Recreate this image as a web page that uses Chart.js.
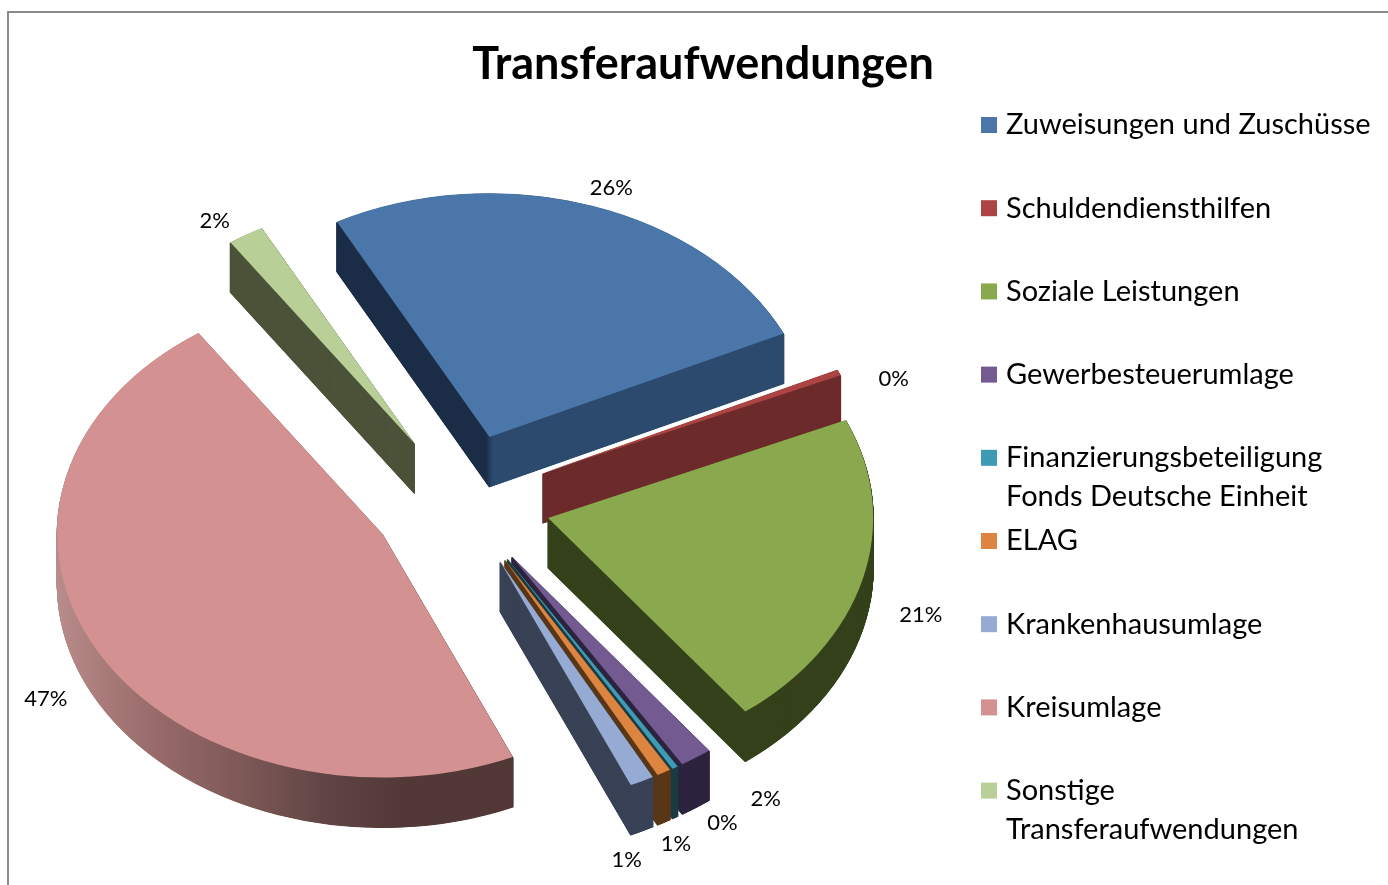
<!DOCTYPE html>
<html><head><meta charset="utf-8">
<script src="https://cdn.jsdelivr.net/npm/chart.js@4.4.1/dist/chart.umd.min.js"></script>
<style>
html,body{margin:0;padding:0;background:#fff;overflow:hidden}
#wrap{position:relative;width:1388px;height:885px}
#frame{position:absolute;left:7px;top:11px;right:-10px;bottom:-10px;border-top:2px solid #8a8a8a;border-left:2px solid #8a8a8a;pointer-events:none}
canvas{position:absolute;left:0;top:0}
</style></head><body>
<div id="wrap"><canvas id="c" width="1388" height="885"></canvas><div id="frame"></div></div>
<script>
// ---- data ----
const chartTitle = 'Transferaufwendungen';
const categories = [
  'Zuweisungen und Zuschüsse',
  'Schuldendiensthilfen',
  'Soziale Leistungen',
  'Gewerbesteuerumlage',
  ['Finanzierungsbeteiligung', 'Fonds Deutsche Einheit'],
  'ELAG',
  'Krankenhausumlage',
  'Kreisumlage',
  ['Sonstige', 'Transferaufwendungen']
];
const shares = [25.8, 0.4, 21.2, 1.6, 0.3, 0.7, 1.2, 47.0, 1.8];

// ---- styles ----
const topColors = ['#4a76aa','#ac4443','#8aa84e','#735a91','#3f9bb4','#dd8540','#95abd3','#d39291','#b8cf98'];
const sideColors = [
  [[0,'#1b2d46'],[0.495,'#1b2d46'],[0.505,'#2c4a6e'],[1,'#2c4a6e']],
  '#6e2c2c',
  '#36421c',
  '#2e2540',
  '#1c3c44',
  '#5a3818',
  '#3a4356',
  [[0,'#b88c8a'],[0.14,'#9a6c6b'],[0.3,'#7a5655'],[0.42,'#5e4443'],[0.53,'#533838'],[1,'#513636']],
  '#4c533a'
];
const TILT = 0.75, DEPTH = 50, EXPLODE = 90, RADIUS = 325, LABEL_GAP = 60;
const FONT = 'Lato, "Open Sans", sans-serif';

const pie3d = {
  id: 'pie3d',
  beforeDatasetsDraw(chart) {
    const ctx = chart.ctx;
    const arcs = chart.getDatasetMeta(0).data;
    const cx = arcs[0].x, cy = arcs[0].y;
    const fills = sideColors.map(c => {
      if (typeof c === 'string') return c;
      const g = ctx.createLinearGradient(cx - RADIUS, 0, cx + RADIUS, 0);
      c.forEach(([p, col]) => g.addColorStop(p, col));
      return g;
    });
    const mk = (arc, color, bw) => {
      const f = Object.create(arc);
      f.options = Object.assign({}, arc.options, {
        backgroundColor: color, borderColor: color, borderWidth: bw,
        borderAlign: 'center', borderJoinStyle: 'round', offset: 0
      });
      return f;
    };
    const sides = arcs.map((a, i) => mk(a, fills[i], 1.2));
    const tops = arcs.map((a, i) => mk(a, topColors[i], 0));
    const shift = arcs.map(a => {
      const m = (a.startAngle + a.endAngle) / 2;
      return [Math.cos(m) * EXPLODE, Math.sin(m) * EXPLODE];
    });
    ctx.save();
    ctx.translate(cx, cy); ctx.scale(1, TILT); ctx.translate(-cx, -cy);
    const step = 0.5;
    const depth = DEPTH / TILT;
    for (let s = depth; s >= 1; s -= step) {
      arcs.forEach((a, i) => {
        ctx.save(); ctx.translate(shift[i][0], shift[i][1] + s); sides[i].draw(ctx); ctx.restore();
      });
    }
    arcs.forEach((a, i) => {
      ctx.save(); ctx.translate(shift[i][0], shift[i][1]); tops[i].draw(ctx); ctx.restore();
    });
    ctx.restore();
    return false;
  },
  afterDraw(chart) {
    const ctx = chart.ctx;
    const arcs = chart.getDatasetMeta(0).data;
    const cx = arcs[0].x, cy = arcs[0].y;
    const total = shares.reduce((a, b) => a + b, 0);
    const D = RADIUS + EXPLODE + LABEL_GAP;
    const items = arcs.map((a, i) => ({ang: (a.startAngle + a.endAngle) / 2, text: Math.round(shares[i] / total * 100) + '%'}));
    const G = 6.5 * Math.PI / 180;
    for (let it = 0; it < 200; it++) {
      for (let j = 0; j < items.length - 1; j++) {
        const d = items[j + 1].ang - items[j].ang;
        if (d < G) { const p = (G - d) / 2; items[j].ang -= p; items[j + 1].ang += p; }
      }
    }
    ctx.save();
    ctx.fillStyle = '#000';
    ctx.textAlign = 'center'; ctx.textBaseline = 'middle';
    ctx.font = '22px ' + FONT;
    items.forEach(o => {
      ctx.fillText(o.text, cx + Math.cos(o.ang) * D, cy + Math.sin(o.ang) * D * TILT + DEPTH / 2);
    });
    // title
    ctx.font = 'bold 45px ' + FONT;
    ctx.fillText(chartTitle, 703, 64);
    // legend
    ctx.textAlign = 'left';
    ctx.font = '29px ' + FONT;
    categories.forEach((c, i) => {
      const y = 125 + i * 83.2;
      ctx.fillStyle = topColors[i];
      ctx.fillRect(981, y - 8, 16, 16);
      ctx.fillStyle = '#000';
      [].concat(c).forEach((t, k) => ctx.fillText(t, 1006, y + k * 39));
    });
    ctx.restore();
  }
};

new Chart(document.getElementById('c'), {
  type: 'pie',
  data: {
    labels: categories,
    datasets: [{data: shares, backgroundColor: topColors, borderWidth: 0, radius: RADIUS, rotation: -28}]
  },
  options: {
    responsive: false,
    animation: false,
    events: [],
    rotation: -28,
    layout: {padding: {left: 18, right: 484, top: 117, bottom: 0}},
    plugins: {legend: {display: false}, title: {display: false}, tooltip: {enabled: false}}
  },
  plugins: [pie3d]
});
</script>
</body></html>
